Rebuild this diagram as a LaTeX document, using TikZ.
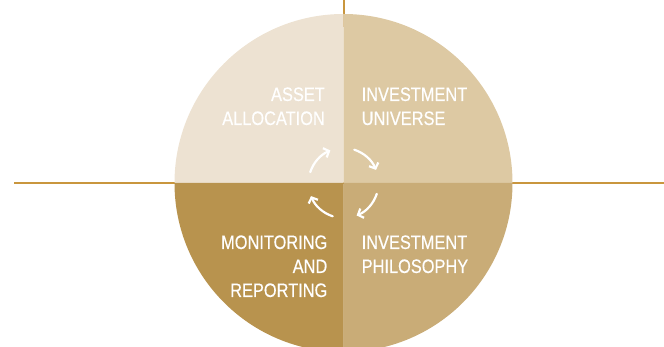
\documentclass[tikz,border=0pt]{standalone}
\usepackage{fontspec}
\usetikzlibrary{arrows.meta}
\newfontfamily\labfont[FakeStretch=0.84,FakeBold=0.4]{Liberation Sans}
\definecolor{qtl}{HTML}{EDE2D2}
\definecolor{qtr}{HTML}{DDC9A3}
\definecolor{qbl}{HTML}{B8934E}
\definecolor{qbr}{HTML}{C9AC77}
\definecolor{rule}{HTML}{C9963E}
\tikzset{
  lab/.style={text=white, inner sep=0pt, font=\labfont\fontsize{19.5}{24}\selectfont},
  labr/.style={lab, anchor=base east},
  labl/.style={lab, anchor=base west},
  cyc/.style={draw=white, line width=2.2pt, line cap=round, -{Straight Barb[length=4.5pt,width=10pt,line width=2.2pt]}},
  axis/.style={draw=rule, line width=1.5pt}
}
\begin{document}
\begin{tikzpicture}[x=1pt,y=1pt]
\useasboundingbox (0,0) rectangle (664,347);
\clip (0,0) rectangle (664,347);
\coordinate (C) at (343.5,164);
\def\R{169}
% axes (behind the circle)
\coordinate (hl) at (14,164);
\coordinate (hr) at (664,164);
\coordinate (vt) at (343.5,347);
\coordinate (vb) at (343.5,320);
\draw[axis] (hl) -- (hr);
\draw[axis, line width=2pt] (vt) -- (vb);
% quadrants
\fill[qtl] (C) -- ++(180:\R) arc[start angle=180,end angle=90,radius=\R] -- cycle;
\fill[qtr] (C) -- ++(90:\R) arc[start angle=90,end angle=0,radius=\R] -- cycle;
\fill[qbr] (C) -- ++(0:\R) arc[start angle=0,end angle=-90,radius=\R] -- cycle;
\fill[qbl] (C) -- ++(-90:\R) arc[start angle=-90,end angle=-180,radius=\R] -- cycle;
% labels
\node[labr] (a1) at (325,246) {ASSET};
\node[labr] (a2) at (325,222) {ALLOCATION};
\node[labl] (i1) at (361.5,246) {INVESTMENT};
\node[labl] (i2) at (361.5,222) {UNIVERSE};
\node[labl] (p1) at (361.5,98) {INVESTMENT};
\node[labl] (p2) at (361.5,74) {PHILOSOPHY};
\node[labr] (m1) at (327.5,98) {MONITORING};
\node[labr] (m2) at (327.5,74) {AND};
\node[labr] (m3) at (327.5,50) {REPORTING};
% cycle arrows
\draw[cyc] (C) ++(72:35) arc[start angle=72,end angle=22,radius=35];
\draw[cyc] (C) ++(-18:35) arc[start angle=-18,end angle=-68,radius=35];
\draw[cyc] (C) ++(-108:35) arc[start angle=-108,end angle=-158,radius=35];
\draw[cyc] (C) ++(162:35) arc[start angle=162,end angle=112,radius=35];
\end{tikzpicture}
\end{document}
